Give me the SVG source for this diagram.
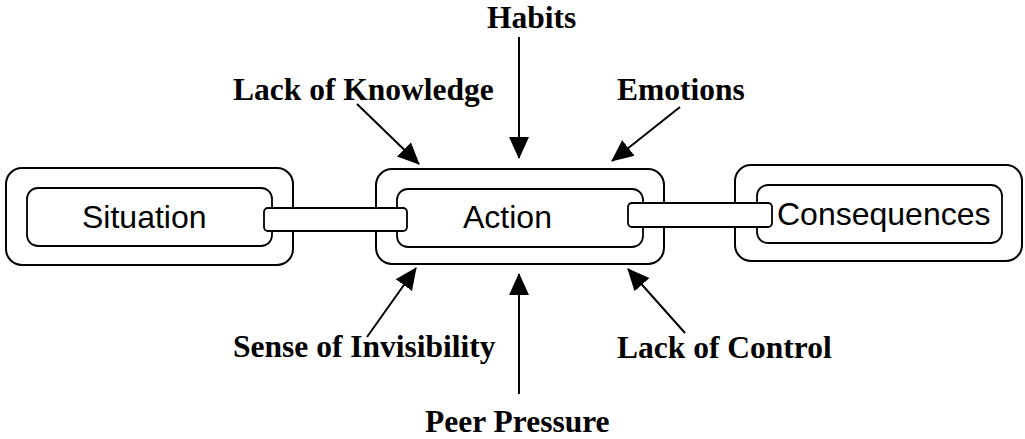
<svg xmlns="http://www.w3.org/2000/svg" width="1025" height="439" viewBox="0 0 1025 439">
  <style>
    .outer { fill: #fff; stroke: #000; stroke-width: 2; }
    .inner { fill: #fff; stroke: #000; stroke-width: 1.8; }
    .link { fill: #fff; stroke: #000; stroke-width: 1.8; }
    .box { font-family: "Liberation Sans", Arial, sans-serif; font-size: 32px; fill: #000; }
    .lbl { font-family: "Liberation Serif", "Times New Roman", serif; font-weight: bold; font-size: 31.5px; fill: #000; }
    .arr { stroke: #000; stroke-width: 2; fill: none; marker-end: url(#ah); }
  </style>
  <defs>
    <marker id="ah" markerUnits="userSpaceOnUse" markerWidth="22" markerHeight="22" viewBox="0 0 22 22" refX="21" refY="11" orient="auto">
      <path d="M0,1 L22,11 L0,21 z" fill="#000"/>
    </marker>
  </defs>
  <rect width="1025" height="439" fill="#fff"/>

  <g id="situation">
    <rect class="outer" x="6" y="168" width="287" height="97" rx="16"/>
    <rect class="inner" x="27" y="188" width="245" height="58" rx="11"/>
    <text class="box" x="82" y="228">Situation</text>
  </g>
  <g id="action">
    <rect class="outer" x="376" y="169" width="288" height="95" rx="16"/>
    <rect class="inner" x="397" y="189" width="246" height="58" rx="11"/>
    <text class="box" x="463" y="228">Action</text>
  </g>
  <g id="consequences">
    <rect class="outer" x="735" y="165" width="287" height="96" rx="16"/>
    <rect class="inner" x="757" y="185" width="245" height="58" rx="11"/>
    <text class="box" x="777" y="225">Consequences</text>
  </g>

  <g id="links">
    <rect class="link" x="264" y="208" width="143" height="23" rx="4"/>
    <rect class="link" x="628" y="203" width="144" height="24" rx="4"/>
  </g>

  <g id="connectors">
    <line class="arr" x1="357" y1="104" x2="419" y2="164"/>
    <line class="arr" x1="519" y1="37" x2="519" y2="158"/>
    <line class="arr" x1="680" y1="107" x2="612" y2="161"/>
    <line class="arr" x1="367" y1="337" x2="416" y2="268"/>
    <line class="arr" x1="519" y1="394" x2="519" y2="274"/>
    <line class="arr" x1="685" y1="333" x2="628" y2="269"/>
  </g>

  <g id="label-habits"><text class="lbl" x="487" y="28">Habits</text></g>
  <g id="label-knowledge"><text class="lbl" x="233" y="100">Lack of Knowledge</text></g>
  <g id="label-emotions"><text class="lbl" x="617" y="100">Emotions</text></g>
  <g id="label-invisibility"><text class="lbl" x="233" y="357">Sense of Invisibility</text></g>
  <g id="label-control"><text class="lbl" x="617" y="358">Lack of Control</text></g>
  <g id="label-peer"><text class="lbl" x="425" y="432">Peer Pressure</text></g>
</svg>
